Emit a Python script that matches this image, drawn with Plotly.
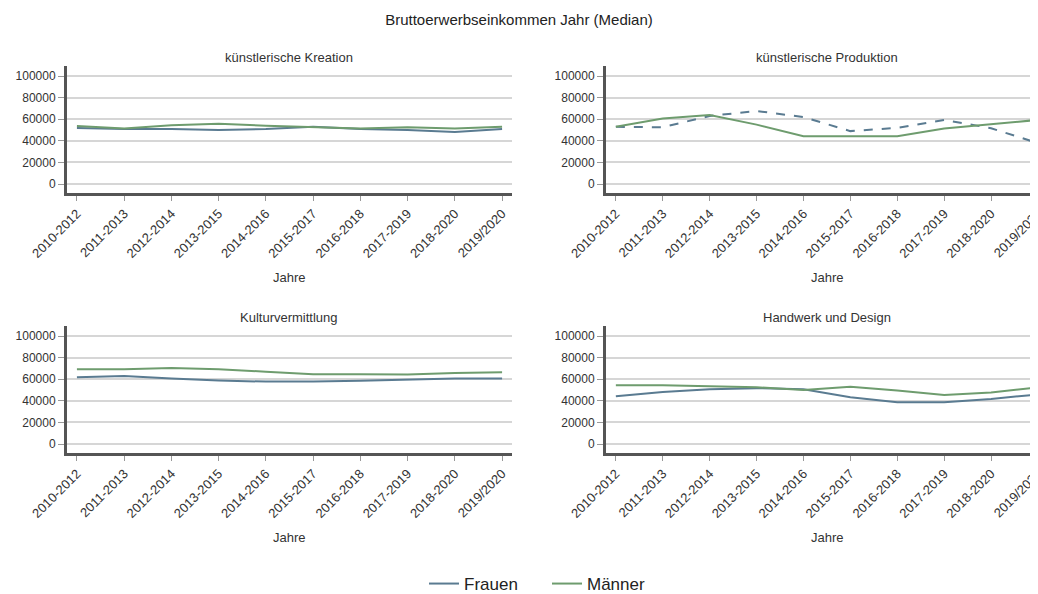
import plotly.graph_objects as go

periods = ["2010-2012", "2011-2013", "2012-2014", "2013-2015", "2014-2016",
           "2015-2017", "2016-2018", "2017-2019", "2018-2020", "2019/2020"]

panels = ["künstlerische Kreation", "künstlerische Produktion",
          "Kulturvermittlung", "Handwerk und Design"]

frauen_kreation = [52000, 51000, 51000, 50000, 51000, 53000, 51000, 50000, 48300, 51000]
maenner_kreation = [53800, 51500, 54500, 55800, 54000, 53000, 51500, 52500, 51500, 53000]

frauen_produktion = [53000, 52600, 63000, 67700, 62000, 49000, 52000, 59400, 51700, 37800]
maenner_produktion = [53000, 60600, 64000, 55000, 44300, 44300, 44300, 51400, 55700, 59400]

frauen_vermittlung = [61800, 63000, 60600, 58800, 57800, 57800, 58500, 59400, 60600, 60600]
maenner_vermittlung = [69200, 69200, 70500, 69200, 67000, 64600, 64600, 64300, 65800, 66500]

frauen_handwerk = [44300, 48300, 50800, 51700, 50800, 43400, 38800, 38800, 41800, 46000]
maenner_handwerk = [54500, 54500, 53500, 52600, 50000, 53000, 49500, 45500, 47700, 52600]

y_ticks = [0, 20000, 40000, 60000, 80000, 100000]

C_FRAUEN = "#5a7b91"
C_MAENNER = "#6e9c6e"

# page has an 8px body margin: figure is placed at (8, 8) in the window
OFF = 8
W, H = 1038 - OFF, 594 - OFF


def fx(px):
    return (px - OFF) / W


def fy(py):
    return 1 - (py - OFF) / H


fig = go.Figure()

series = [
    (frauen_kreation, maenner_kreation, "solid"),
    (frauen_produktion, maenner_produktion, "dash"),
    (frauen_vermittlung, maenner_vermittlung, "solid"),
    (frauen_handwerk, maenner_handwerk, "solid"),
]

for i, (fr, ma, fdash) in enumerate(series):
    xa = "x" if i == 0 else f"x{i+1}"
    ya = "y" if i == 0 else f"y{i+1}"
    fig.add_trace(go.Scatter(x=periods, y=fr, mode="lines", name="Frauen",
                             line=dict(color=C_FRAUEN, width=2, dash=fdash),
                             xaxis=xa, yaxis=ya, showlegend=(i == 0)))
    fig.add_trace(go.Scatter(x=periods, y=ma, mode="lines", name="Männer",
                             line=dict(color=C_MAENNER, width=2),
                             xaxis=xa, yaxis=ya, showlegend=(i == 0)))

xdom_l = [fx(67), fx(512)]
xdom_r = [fx(606), 1.0]
ydom_t = [fy(193), fy(66)]
ydom_b = [fy(453), fy(326)]

doms = [(xdom_l, ydom_t), (xdom_r, ydom_t), (xdom_l, ydom_b), (xdom_r, ydom_b)]
xranges = [[-0.21, 9.21], [-0.21, 9.0], [-0.21, 9.21], [-0.21, 9.0]]

layout = {}
for i, ((xd, yd), xr) in enumerate(zip(doms, xranges)):
    xk = "xaxis" if i == 0 else f"xaxis{i+1}"
    yk = "yaxis" if i == 0 else f"yaxis{i+1}"
    ya = "y" if i == 0 else f"y{i+1}"
    xa = "x" if i == 0 else f"x{i+1}"
    layout[xk] = dict(domain=xd, anchor=ya, type="category",
                      categoryorder="array", categoryarray=periods,
                      range=xr, tickangle=-45, showgrid=False, automargin=False,
                      showline=True, linecolor="#555555", linewidth=3,
                      ticks="outside", ticklen=5, tickcolor="#999999", tickwidth=1,
                      tickfont=dict(size=13, color="#333333"), zeroline=False)
    layout[yk] = dict(domain=yd, anchor=xa, range=[-8300, 109300], automargin=False,
                      tickvals=y_ticks, ticktext=[str(v) for v in y_ticks],
                      showgrid=True, gridcolor="#d6d6d6", gridwidth=1.5,
                      showline=True, linecolor="#555555", linewidth=3,
                      ticks="outside", ticklen=6, tickcolor="#999999", tickwidth=1,
                      tickfont=dict(size=12, color="#333333"), zeroline=False)

fig.update_layout(**layout)

annotations = []
title_pos = [(289, 57), (827, 57), (289, 317), (827, 317)]
for name, (px, py) in zip(panels, title_pos):
    annotations.append(dict(text=name, x=fx(px), y=fy(py), xref="paper", yref="paper",
                            showarrow=False, xanchor="center", yanchor="middle",
                            font=dict(size=13, color="#333333")))
for px, py in [(289, 277), (827, 277), (289, 537), (827, 537)]:
    annotations.append(dict(text="Jahre", x=fx(px), y=fy(py), xref="paper", yref="paper",
                            showarrow=False, xanchor="center", yanchor="middle",
                            font=dict(size=13, color="#333333")))

fig.update_layout(
    width=W, height=H,
    margin=dict(l=0, r=0, t=0, b=0, autoexpand=False),
    paper_bgcolor="white", plot_bgcolor="white",
    font=dict(family="Liberation Sans, Arial, sans-serif", color="#333333"),
    title=dict(text="Bruttoerwerbseinkommen Jahr (Median)", x=fx(519), y=fy(20),
               xanchor="center", yanchor="middle", xref="paper", yref="paper",
               automargin=False, font=dict(size=15, color="#222222")),
    annotations=annotations,
    showlegend=True,
    legend=dict(orientation="h", x=fx(547), y=fy(584), xanchor="center", yanchor="middle",
                font=dict(size=17, color="#222222"), entrywidth=78,
                tracegroupgap=0, bgcolor="rgba(0,0,0,0)"),
)

fig.write_html("out.html")
